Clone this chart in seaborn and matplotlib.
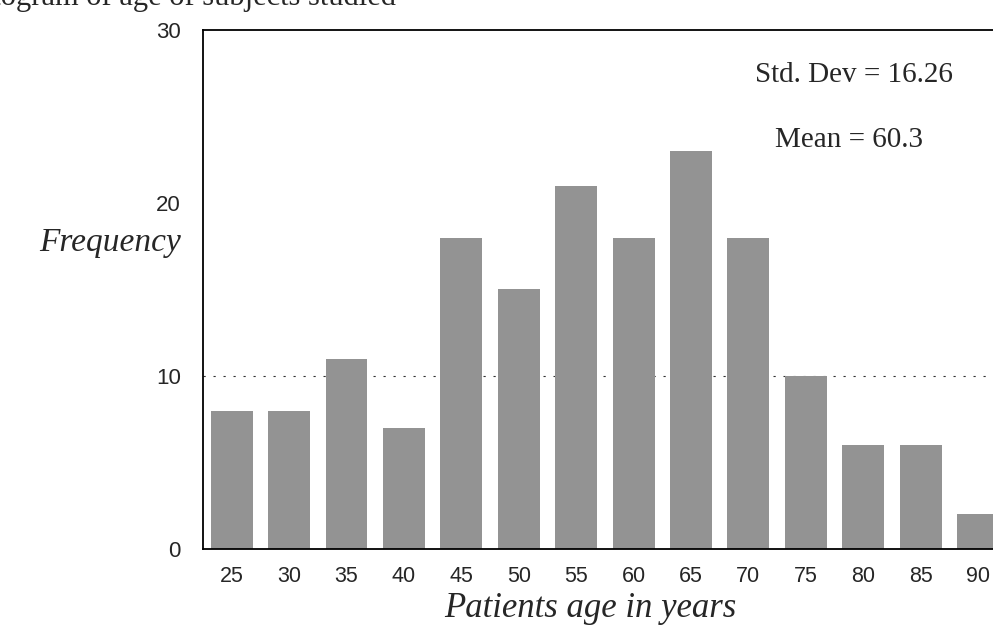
import matplotlib
matplotlib.use("Agg")
import matplotlib.pyplot as plt
import seaborn as sns
import pandas as pd

# age class midpoints and patient counts
ages = [25, 30, 35, 40, 45, 50, 55, 60, 65, 70, 75, 80, 85, 90]
counts = [8, 8, 11, 7, 18, 15, 21, 18, 23, 18, 10, 6, 6, 2]
y_ticks = [0, 10, 20, 30]
std_dev = 16.26
mean_age = 60.3
title = "Histogram of age of subjects studied"

df = pd.DataFrame({"age": ages, "n": counts})

sns.set_style("white")
plt.rcParams["font.family"] = ["Liberation Sans", "DejaVu Sans"]

fig = plt.figure(figsize=(9.93, 6.38), dpi=100)
ax = fig.add_axes([0.2044, 0.1395, 0.7956, 0.8135])

sns.histplot(data=df, x="age", weights="n", binwidth=5, binrange=(22.5, 92.5),
             shrink=0.73, color="#939393", edgecolor="none", alpha=1, ax=ax)

ax.set_xlim(22.5, 91.3)
ax.set_ylim(0, 30)
ax.set_xticks(ages)
ax.set_xticklabels([str(a) for a in ages], fontsize=15.5)
ax.set_xticks([a + 2.5 for a in ages[:-1]], minor=True)
ax.set_yticks(y_ticks)
ax.set_yticklabels([str(t) for t in y_ticks], fontsize=16)
ax.tick_params(axis="x", which="major", length=0, pad=12)
ax.tick_params(axis="x", which="minor", length=7, direction="in", width=1)
ax.tick_params(axis="y", length=0, pad=16)

# sparse dotted reference line at 10
ax.axhline(y_ticks[1], color="#333333", lw=0.8, ls=(0, (2, 7)), zorder=0)

for s in ["left", "bottom", "top"]:
    ax.spines[s].set_color("black")
    ax.spines[s].set_linewidth(1.3)
ax.spines["right"].set_visible(False)

ax.set_xlabel("Patients age in years", fontsize=25, family="Liberation Serif",
              style="italic")
ax.xaxis.set_label_coords(0.49, -0.082)
ax.set_ylabel("Frequency", fontsize=24, family="Liberation Serif",
              style="italic", rotation=0, ha="center", va="center")
ax.yaxis.set_label_coords(-0.118, 0.59)

ax.text(0.699, 0.913, f"Std. Dev = {std_dev:.2f}", transform=ax.transAxes,
        fontsize=21, family="Liberation Serif", va="center")
ax.text(0.724, 0.788, f"Mean = {mean_age}", transform=ax.transAxes,
        fontsize=21, family="Liberation Serif", va="center")

# title is cut off by the top edge of the scan
fig.text(-0.05, 0.9925, title, fontsize=22, family="Liberation Serif",
         va="baseline")

fig.savefig("out.png", dpi=100)
